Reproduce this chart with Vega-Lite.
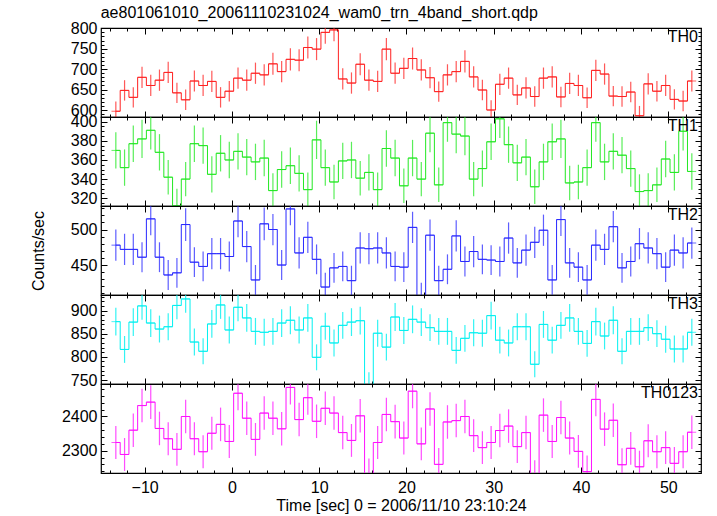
{
"$schema": "https://vega.github.io/schema/vega-lite/v6.json",
"padding": {"left": 29, "top": 4, "right": 5, "bottom": 0},
"title": {"text": "ae801061010_20061110231024_wam0_trn_4band_short.qdp", "anchor": "start", "frame": "bounds", "dx": 71, "fontSize": 16, "fontWeight": "normal", "font": "Liberation Sans", "color": "black", "offset": -1},
"config": {"font": "Liberation Sans", "view": {"stroke": "black", "strokeWidth": 1.2}, "axis": {"domain": false, "grid": false, "labelFont": "Liberation Sans", "labelFontSize": 16, "labelColor": "black", "tickColor": "black", "tickWidth": 1, "titleFont": "Liberation Sans", "titleFontSize": 16, "titleFontWeight": "normal", "titleColor": "black", "labelOverlap": false, "labelFlush": false, "format": "d"}},
"datasets": {
"th0": [{"t":-13.3,"v":597,"e":24},{"t":-12.3,"v":648,"e":25},{"t":-11.3,"v":631,"e":25},{"t":-10.3,"v":680,"e":26},{"t":-9.3,"v":660,"e":26},{"t":-8.3,"v":673,"e":26},{"t":-7.3,"v":692,"e":26},{"t":-6.3,"v":642,"e":25},{"t":-5.3,"v":625,"e":25},{"t":-4.3,"v":671,"e":26},{"t":-3.3,"v":660,"e":26},{"t":-2.3,"v":670,"e":26},{"t":-1.3,"v":631,"e":25},{"t":-0.3,"v":646,"e":25},{"t":0.7,"v":678,"e":26},{"t":1.7,"v":673,"e":26},{"t":2.7,"v":690,"e":26},{"t":3.7,"v":686,"e":26},{"t":4.7,"v":713,"e":27},{"t":5.7,"v":694,"e":26},{"t":6.7,"v":724,"e":27},{"t":7.7,"v":722,"e":27},{"t":8.7,"v":753,"e":27},{"t":9.7,"v":749,"e":27},{"t":10.7,"v":790,"e":28},{"t":11.7,"v":796,"e":28},{"t":12.7,"v":676,"e":26},{"t":13.7,"v":666,"e":26},{"t":14.7,"v":712,"e":27},{"t":15.7,"v":673,"e":26},{"t":16.7,"v":670,"e":26},{"t":17.7,"v":749,"e":27},{"t":18.7,"v":690,"e":26},{"t":19.7,"v":702,"e":26},{"t":20.7,"v":726,"e":27},{"t":21.7,"v":698,"e":26},{"t":22.7,"v":679,"e":26},{"t":23.7,"v":645,"e":25},{"t":24.7,"v":686,"e":26},{"t":25.7,"v":694,"e":26},{"t":26.7,"v":719,"e":27},{"t":27.7,"v":681,"e":26},{"t":28.7,"v":649,"e":25},{"t":29.7,"v":600,"e":24},{"t":30.7,"v":663,"e":26},{"t":31.7,"v":678,"e":26},{"t":32.7,"v":637,"e":25},{"t":33.7,"v":654,"e":26},{"t":34.7,"v":633,"e":25},{"t":35.7,"v":678,"e":26},{"t":36.7,"v":681,"e":26},{"t":37.7,"v":632,"e":25},{"t":38.7,"v":665,"e":26},{"t":39.7,"v":660,"e":26},{"t":40.7,"v":630,"e":25},{"t":41.7,"v":697,"e":26},{"t":42.7,"v":688,"e":26},{"t":43.7,"v":634,"e":25},{"t":44.7,"v":633,"e":25},{"t":45.7,"v":644,"e":25},{"t":46.7,"v":586,"e":24},{"t":47.7,"v":664,"e":26},{"t":48.7,"v":646,"e":25},{"t":49.7,"v":660,"e":26},{"t":50.7,"v":626,"e":25},{"t":51.7,"v":622,"e":25},{"t":52.7,"v":671,"e":26}],
"th1": [{"t":-13.3,"v":370,"e":19},{"t":-12.3,"v":352,"e":19},{"t":-11.3,"v":377,"e":19},{"t":-10.3,"v":382,"e":20},{"t":-9.3,"v":391,"e":20},{"t":-8.3,"v":368,"e":19},{"t":-7.3,"v":342,"e":18},{"t":-6.3,"v":312,"e":18},{"t":-5.3,"v":340,"e":18},{"t":-4.3,"v":377,"e":19},{"t":-3.3,"v":375,"e":19},{"t":-2.3,"v":345,"e":19},{"t":-1.3,"v":367,"e":19},{"t":-0.3,"v":360,"e":19},{"t":0.7,"v":369,"e":19},{"t":1.7,"v":363,"e":19},{"t":2.7,"v":358,"e":19},{"t":3.7,"v":362,"e":19},{"t":4.7,"v":328,"e":18},{"t":5.7,"v":350,"e":19},{"t":6.7,"v":354,"e":19},{"t":7.7,"v":346,"e":19},{"t":8.7,"v":329,"e":18},{"t":9.7,"v":381,"e":20},{"t":10.7,"v":352,"e":19},{"t":11.7,"v":337,"e":18},{"t":12.7,"v":359,"e":19},{"t":13.7,"v":360,"e":19},{"t":14.7,"v":341,"e":18},{"t":15.7,"v":347,"e":19},{"t":16.7,"v":329,"e":18},{"t":17.7,"v":372,"e":19},{"t":18.7,"v":362,"e":19},{"t":19.7,"v":333,"e":18},{"t":20.7,"v":362,"e":19},{"t":21.7,"v":340,"e":18},{"t":22.7,"v":388,"e":20},{"t":23.7,"v":334,"e":18},{"t":24.7,"v":399,"e":20},{"t":25.7,"v":387,"e":20},{"t":26.7,"v":385,"e":20},{"t":27.7,"v":340,"e":18},{"t":28.7,"v":351,"e":19},{"t":29.7,"v":379,"e":19},{"t":30.7,"v":403,"e":20},{"t":31.7,"v":376,"e":19},{"t":32.7,"v":357,"e":19},{"t":33.7,"v":363,"e":19},{"t":34.7,"v":332,"e":18},{"t":35.7,"v":358,"e":19},{"t":36.7,"v":379,"e":19},{"t":37.7,"v":382,"e":20},{"t":38.7,"v":336,"e":18},{"t":39.7,"v":337,"e":18},{"t":40.7,"v":352,"e":19},{"t":41.7,"v":399,"e":20},{"t":42.7,"v":358,"e":19},{"t":43.7,"v":369,"e":19},{"t":44.7,"v":365,"e":19},{"t":45.7,"v":351,"e":19},{"t":46.7,"v":327,"e":18},{"t":47.7,"v":328,"e":18},{"t":48.7,"v":334,"e":18},{"t":49.7,"v":361,"e":19},{"t":50.7,"v":347,"e":19},{"t":51.7,"v":390,"e":20},{"t":52.7,"v":348,"e":19}],
"th2": [{"t":-13.3,"v":478,"e":22},{"t":-12.3,"v":472,"e":22},{"t":-11.3,"v":472,"e":22},{"t":-10.3,"v":461,"e":21},{"t":-9.3,"v":515,"e":23},{"t":-8.3,"v":461,"e":21},{"t":-7.3,"v":436,"e":21},{"t":-6.3,"v":439,"e":21},{"t":-5.3,"v":507,"e":23},{"t":-4.3,"v":454,"e":21},{"t":-3.3,"v":448,"e":21},{"t":-2.3,"v":466,"e":22},{"t":-1.3,"v":466,"e":22},{"t":-0.3,"v":462,"e":21},{"t":0.7,"v":512,"e":23},{"t":1.7,"v":476,"e":22},{"t":2.7,"v":429,"e":21},{"t":3.7,"v":508,"e":23},{"t":4.7,"v":500,"e":22},{"t":5.7,"v":450,"e":21},{"t":6.7,"v":529,"e":23},{"t":7.7,"v":467,"e":22},{"t":8.7,"v":489,"e":22},{"t":9.7,"v":458,"e":21},{"t":10.7,"v":419,"e":20},{"t":11.7,"v":446,"e":21},{"t":12.7,"v":448,"e":21},{"t":13.7,"v":428,"e":21},{"t":14.7,"v":474,"e":22},{"t":15.7,"v":473,"e":22},{"t":16.7,"v":474,"e":22},{"t":17.7,"v":467,"e":22},{"t":18.7,"v":448,"e":21},{"t":19.7,"v":447,"e":21},{"t":20.7,"v":503,"e":22},{"t":21.7,"v":405,"e":20},{"t":22.7,"v":492,"e":22},{"t":23.7,"v":428,"e":21},{"t":24.7,"v":444,"e":21},{"t":25.7,"v":491,"e":22},{"t":26.7,"v":455,"e":21},{"t":27.7,"v":469,"e":22},{"t":28.7,"v":458,"e":21},{"t":29.7,"v":457,"e":21},{"t":30.7,"v":455,"e":21},{"t":31.7,"v":488,"e":22},{"t":32.7,"v":453,"e":21},{"t":33.7,"v":471,"e":22},{"t":34.7,"v":482,"e":22},{"t":35.7,"v":499,"e":22},{"t":36.7,"v":429,"e":21},{"t":37.7,"v":514,"e":23},{"t":38.7,"v":453,"e":21},{"t":39.7,"v":447,"e":21},{"t":40.7,"v":429,"e":21},{"t":41.7,"v":478,"e":22},{"t":42.7,"v":472,"e":22},{"t":43.7,"v":504,"e":22},{"t":44.7,"v":446,"e":21},{"t":45.7,"v":455,"e":21},{"t":46.7,"v":480,"e":22},{"t":47.7,"v":474,"e":22},{"t":48.7,"v":466,"e":22},{"t":49.7,"v":447,"e":21},{"t":50.7,"v":471,"e":22},{"t":51.7,"v":467,"e":22},{"t":52.7,"v":481,"e":22}],
"th3": [{"t":-13.3,"v":876,"e":30},{"t":-12.3,"v":816,"e":29},{"t":-11.3,"v":875,"e":30},{"t":-10.3,"v":910,"e":30},{"t":-9.3,"v":873,"e":30},{"t":-8.3,"v":860,"e":29},{"t":-7.3,"v":865,"e":29},{"t":-6.3,"v":911,"e":30},{"t":-5.3,"v":925,"e":30},{"t":-4.3,"v":832,"e":29},{"t":-3.3,"v":812,"e":28},{"t":-2.3,"v":871,"e":30},{"t":-1.3,"v":912,"e":30},{"t":-0.3,"v":858,"e":29},{"t":0.7,"v":907,"e":30},{"t":1.7,"v":884,"e":30},{"t":2.7,"v":855,"e":29},{"t":3.7,"v":853,"e":29},{"t":4.7,"v":855,"e":29},{"t":5.7,"v":873,"e":30},{"t":6.7,"v":879,"e":30},{"t":7.7,"v":858,"e":29},{"t":8.7,"v":884,"e":30},{"t":9.7,"v":799,"e":28},{"t":10.7,"v":866,"e":29},{"t":11.7,"v":830,"e":29},{"t":12.7,"v":868,"e":29},{"t":13.7,"v":875,"e":30},{"t":14.7,"v":878,"e":30},{"t":15.7,"v":740,"e":27},{"t":16.7,"v":851,"e":29},{"t":17.7,"v":821,"e":29},{"t":18.7,"v":886,"e":30},{"t":19.7,"v":857,"e":29},{"t":20.7,"v":881,"e":30},{"t":21.7,"v":875,"e":30},{"t":22.7,"v":863,"e":29},{"t":23.7,"v":855,"e":29},{"t":24.7,"v":855,"e":29},{"t":25.7,"v":814,"e":29},{"t":26.7,"v":840,"e":29},{"t":27.7,"v":852,"e":29},{"t":28.7,"v":851,"e":29},{"t":29.7,"v":889,"e":30},{"t":30.7,"v":836,"e":29},{"t":31.7,"v":830,"e":29},{"t":32.7,"v":865,"e":29},{"t":33.7,"v":865,"e":29},{"t":34.7,"v":784,"e":28},{"t":35.7,"v":870,"e":29},{"t":36.7,"v":836,"e":29},{"t":37.7,"v":868,"e":29},{"t":38.7,"v":884,"e":30},{"t":39.7,"v":855,"e":29},{"t":40.7,"v":829,"e":29},{"t":41.7,"v":876,"e":30},{"t":42.7,"v":845,"e":29},{"t":43.7,"v":879,"e":30},{"t":44.7,"v":812,"e":28},{"t":45.7,"v":855,"e":29},{"t":46.7,"v":855,"e":29},{"t":47.7,"v":863,"e":29},{"t":48.7,"v":850,"e":29},{"t":49.7,"v":838,"e":29},{"t":50.7,"v":817,"e":29},{"t":51.7,"v":817,"e":29},{"t":52.7,"v":853,"e":29}],
"th4": [{"t":-13.3,"v":2324,"e":48},{"t":-12.3,"v":2289,"e":48},{"t":-11.3,"v":2360,"e":49},{"t":-10.3,"v":2432,"e":49},{"t":-9.3,"v":2442,"e":49},{"t":-8.3,"v":2365,"e":49},{"t":-7.3,"v":2335,"e":48},{"t":-6.3,"v":2304,"e":48},{"t":-5.3,"v":2400,"e":49},{"t":-4.3,"v":2335,"e":48},{"t":-3.3,"v":2297,"e":48},{"t":-2.3,"v":2351,"e":48},{"t":-1.3,"v":2377,"e":49},{"t":-0.3,"v":2327,"e":48},{"t":0.7,"v":2468,"e":50},{"t":1.7,"v":2395,"e":49},{"t":2.7,"v":2333,"e":48},{"t":3.7,"v":2410,"e":49},{"t":4.7,"v":2395,"e":49},{"t":5.7,"v":2364,"e":49},{"t":6.7,"v":2485,"e":50},{"t":7.7,"v":2391,"e":49},{"t":8.7,"v":2455,"e":50},{"t":9.7,"v":2386,"e":49},{"t":10.7,"v":2424,"e":49},{"t":11.7,"v":2410,"e":49},{"t":12.7,"v":2353,"e":49},{"t":13.7,"v":2330,"e":48},{"t":14.7,"v":2402,"e":49},{"t":15.7,"v":2230,"e":47},{"t":16.7,"v":2324,"e":48},{"t":17.7,"v":2406,"e":49},{"t":18.7,"v":2385,"e":49},{"t":19.7,"v":2337,"e":48},{"t":20.7,"v":2474,"e":50},{"t":21.7,"v":2320,"e":48},{"t":22.7,"v":2422,"e":49},{"t":23.7,"v":2260,"e":48},{"t":24.7,"v":2384,"e":49},{"t":25.7,"v":2388,"e":49},{"t":26.7,"v":2400,"e":49},{"t":27.7,"v":2344,"e":48},{"t":28.7,"v":2309,"e":48},{"t":29.7,"v":2324,"e":48},{"t":30.7,"v":2359,"e":49},{"t":31.7,"v":2372,"e":49},{"t":32.7,"v":2312,"e":48},{"t":33.7,"v":2353,"e":49},{"t":34.7,"v":2225,"e":47},{"t":35.7,"v":2404,"e":49},{"t":36.7,"v":2327,"e":48},{"t":37.7,"v":2397,"e":49},{"t":38.7,"v":2337,"e":48},{"t":39.7,"v":2298,"e":48},{"t":40.7,"v":2239,"e":47},{"t":41.7,"v":2450,"e":49},{"t":42.7,"v":2363,"e":49},{"t":43.7,"v":2389,"e":49},{"t":44.7,"v":2259,"e":48},{"t":45.7,"v":2307,"e":48},{"t":46.7,"v":2253,"e":47},{"t":47.7,"v":2329,"e":48},{"t":48.7,"v":2297,"e":48},{"t":49.7,"v":2309,"e":48},{"t":50.7,"v":2263,"e":48},{"t":51.7,"v":2297,"e":48},{"t":52.7,"v":2354,"e":49}],
"one": [{"k": 1}]
},
"bounds": "flush",
"spacing": 0,
"vconcat": [
{"data": {"name": "th0"}, "width": 600, "height": 89,
 "layer": [
  {"mark": {"type": "errorbar", "color": "#ff2020", "opacity": 0.75, "thickness": 1.2, "clip": true},
   "encoding": {"x": {"field": "t", "type": "quantitative", "scale": {"domain": [-15, 53.75], "nice": false, "zero": false}, "axis": {"orient": "bottom", "values": [-10,0,10,20,30,40,50], "tickSize": -6, "labels": false, "title": null}},
    "y": {"field": "v", "type": "quantitative", "scale": {"domain": [582.9, 800.7], "nice": false, "zero": false}, "axis": {"orient": "left", "values": [600,650,700,750,800], "tickSize": -6, "labelPadding": 10, "title": null}},
    "yError": {"field": "e"}}},
  {"mark": {"type": "tick", "orient": "horizontal", "color": "#ff2020", "size": 8.727, "thickness": 1, "clip": true},
   "encoding": {"x": {"field": "t", "type": "quantitative", "scale": {"domain": [-15, 53.75], "nice": false, "zero": false}, "axis": {"orient": "top", "values": [-10,0,10,20,30,40,50], "tickSize": -6, "labels": false, "title": null}},
    "y": {"field": "v", "type": "quantitative", "scale": {"domain": [582.9, 800.7], "nice": false, "zero": false}, "axis": {"orient": "right", "values": [600,650,700,750,800], "tickSize": -6, "labels": false, "title": null}}}},
  {"mark": {"type": "line", "interpolate": "step", "color": "#ff2020", "strokeWidth": 1, "clip": true},
   "encoding": {"x": {"field": "t", "type": "quantitative", "scale": {"domain": [-15, 53.75], "nice": false, "zero": false}, "axis": {"orient": "bottom", "values": [-14,-12,-10,-8,-6,-4,-2,0,2,4,6,8,10,12,14,16,18,20,22,24,26,28,30,32,34,36,38,40,42,44,46,48,50,52], "tickSize": -3, "labels": false, "title": null}},
    "y": {"field": "v", "type": "quantitative", "scale": {"domain": [582.9, 800.7], "nice": false, "zero": false}, "axis": {"orient": "left", "values": [590,600,610,620,630,640,650,660,670,680,690,700,710,720,730,740,750,760,770,780,790,800], "tickSize": -3, "labels": false, "title": null}}}},
  {"data": {"name": "one"}, "mark": {"type": "text", "text": "TH0", "align": "right", "baseline": "top", "dx": -3, "dy": 1, "fontSize": 16, "font": "Liberation Sans", "color": "black"},
   "encoding": {"x": {"datum": 53.75, "type": "quantitative", "scale": {"domain": [-15, 53.75], "nice": false, "zero": false}, "axis": {"orient": "top", "values": [-14,-12,-10,-8,-6,-4,-2,0,2,4,6,8,10,12,14,16,18,20,22,24,26,28,30,32,34,36,38,40,42,44,46,48,50,52], "tickSize": -3, "labels": false, "title": null}},
    "y": {"datum": 800.7, "type": "quantitative", "scale": {"domain": [582.9, 800.7], "nice": false, "zero": false}, "axis": {"orient": "right", "values": [590,600,610,620,630,640,650,660,670,680,690,700,710,720,730,740,750,760,770,780,790,800], "tickSize": -3, "labels": false, "title": null}}}}
 ],
 "resolve": {"axis": {"x": "independent", "y": "independent"}}},
{"data": {"name": "th1"}, "width": 600, "height": 89,
 "layer": [
  {"mark": {"type": "errorbar", "color": "#22e822", "opacity": 0.75, "thickness": 1.2, "clip": true},
   "encoding": {"x": {"field": "t", "type": "quantitative", "scale": {"domain": [-15, 53.75], "nice": false, "zero": false}, "axis": {"orient": "bottom", "values": [-10,0,10,20,30,40,50], "tickSize": -6, "labels": false, "title": null}},
    "y": {"field": "v", "type": "quantitative", "scale": {"domain": [311.9, 404.9], "nice": false, "zero": false}, "axis": {"orient": "left", "values": [320,340,360,380,400], "tickSize": -6, "labelPadding": 10, "title": null}},
    "yError": {"field": "e"}}},
  {"mark": {"type": "tick", "orient": "horizontal", "color": "#22e822", "size": 8.727, "thickness": 1, "clip": true},
   "encoding": {"x": {"field": "t", "type": "quantitative", "scale": {"domain": [-15, 53.75], "nice": false, "zero": false}, "axis": {"orient": "top", "values": [-10,0,10,20,30,40,50], "tickSize": -6, "labels": false, "title": null}},
    "y": {"field": "v", "type": "quantitative", "scale": {"domain": [311.9, 404.9], "nice": false, "zero": false}, "axis": {"orient": "right", "values": [320,340,360,380,400], "tickSize": -6, "labels": false, "title": null}}}},
  {"mark": {"type": "line", "interpolate": "step", "color": "#22e822", "strokeWidth": 1, "clip": true},
   "encoding": {"x": {"field": "t", "type": "quantitative", "scale": {"domain": [-15, 53.75], "nice": false, "zero": false}, "axis": {"orient": "bottom", "values": [-14,-12,-10,-8,-6,-4,-2,0,2,4,6,8,10,12,14,16,18,20,22,24,26,28,30,32,34,36,38,40,42,44,46,48,50,52], "tickSize": -3, "labels": false, "title": null}},
    "y": {"field": "v", "type": "quantitative", "scale": {"domain": [311.9, 404.9], "nice": false, "zero": false}, "axis": {"orient": "left", "values": [315,320,325,330,335,340,345,350,355,360,365,370,375,380,385,390,395,400], "tickSize": -3, "labels": false, "title": null}}}},
  {"data": {"name": "one"}, "mark": {"type": "text", "text": "TH1", "align": "right", "baseline": "top", "dx": -3, "dy": 1, "fontSize": 16, "font": "Liberation Sans", "color": "black"},
   "encoding": {"x": {"datum": 53.75, "type": "quantitative", "scale": {"domain": [-15, 53.75], "nice": false, "zero": false}, "axis": {"orient": "top", "values": [-14,-12,-10,-8,-6,-4,-2,0,2,4,6,8,10,12,14,16,18,20,22,24,26,28,30,32,34,36,38,40,42,44,46,48,50,52], "tickSize": -3, "labels": false, "title": null}},
    "y": {"datum": 404.9, "type": "quantitative", "scale": {"domain": [311.9, 404.9], "nice": false, "zero": false}, "axis": {"orient": "right", "values": [315,320,325,330,335,340,345,350,355,360,365,370,375,380,385,390,395,400], "tickSize": -3, "labels": false, "title": null}}}}
 ],
 "resolve": {"axis": {"x": "independent", "y": "independent"}}},
{"data": {"name": "th2"}, "width": 600, "height": 89,
 "layer": [
  {"mark": {"type": "errorbar", "color": "#2828ff", "opacity": 0.75, "thickness": 1.2, "clip": true},
   "encoding": {"x": {"field": "t", "type": "quantitative", "scale": {"domain": [-15, 53.75], "nice": false, "zero": false}, "axis": {"orient": "bottom", "values": [-10,0,10,20,30,40,50], "tickSize": -6, "labels": false, "title": null}},
    "y": {"field": "v", "type": "quantitative", "scale": {"domain": [407.8, 533.1], "nice": false, "zero": false}, "axis": {"orient": "left", "values": [450,500], "tickSize": -6, "labelPadding": 10, "title": "Counts/sec", "titlePadding": 24}},
    "yError": {"field": "e"}}},
  {"mark": {"type": "tick", "orient": "horizontal", "color": "#2828ff", "size": 8.727, "thickness": 1, "clip": true},
   "encoding": {"x": {"field": "t", "type": "quantitative", "scale": {"domain": [-15, 53.75], "nice": false, "zero": false}, "axis": {"orient": "top", "values": [-10,0,10,20,30,40,50], "tickSize": -6, "labels": false, "title": null}},
    "y": {"field": "v", "type": "quantitative", "scale": {"domain": [407.8, 533.1], "nice": false, "zero": false}, "axis": {"orient": "right", "values": [450,500], "tickSize": -6, "labels": false, "title": null}}}},
  {"mark": {"type": "line", "interpolate": "step", "color": "#2828ff", "strokeWidth": 1, "clip": true},
   "encoding": {"x": {"field": "t", "type": "quantitative", "scale": {"domain": [-15, 53.75], "nice": false, "zero": false}, "axis": {"orient": "bottom", "values": [-14,-12,-10,-8,-6,-4,-2,0,2,4,6,8,10,12,14,16,18,20,22,24,26,28,30,32,34,36,38,40,42,44,46,48,50,52], "tickSize": -3, "labels": false, "title": null}},
    "y": {"field": "v", "type": "quantitative", "scale": {"domain": [407.8, 533.1], "nice": false, "zero": false}, "axis": {"orient": "left", "values": [410,420,430,440,450,460,470,480,490,500,510,520,530], "tickSize": -3, "labels": false, "title": null}}}},
  {"data": {"name": "one"}, "mark": {"type": "text", "text": "TH2", "align": "right", "baseline": "top", "dx": -3, "dy": 1, "fontSize": 16, "font": "Liberation Sans", "color": "black"},
   "encoding": {"x": {"datum": 53.75, "type": "quantitative", "scale": {"domain": [-15, 53.75], "nice": false, "zero": false}, "axis": {"orient": "top", "values": [-14,-12,-10,-8,-6,-4,-2,0,2,4,6,8,10,12,14,16,18,20,22,24,26,28,30,32,34,36,38,40,42,44,46,48,50,52], "tickSize": -3, "labels": false, "title": null}},
    "y": {"datum": 533.1, "type": "quantitative", "scale": {"domain": [407.8, 533.1], "nice": false, "zero": false}, "axis": {"orient": "right", "values": [410,420,430,440,450,460,470,480,490,500,510,520,530], "tickSize": -3, "labels": false, "title": null}}}}
 ],
 "resolve": {"axis": {"x": "independent", "y": "independent"}}},
{"data": {"name": "th3"}, "width": 600, "height": 89,
 "layer": [
  {"mark": {"type": "errorbar", "color": "#00f0f0", "opacity": 0.8, "thickness": 1.2, "clip": true},
   "encoding": {"x": {"field": "t", "type": "quantitative", "scale": {"domain": [-15, 53.75], "nice": false, "zero": false}, "axis": {"orient": "bottom", "values": [-10,0,10,20,30,40,50], "tickSize": -6, "labels": false, "title": null}},
    "y": {"field": "v", "type": "quantitative", "scale": {"domain": [741.4, 933.5], "nice": false, "zero": false}, "axis": {"orient": "left", "values": [750,800,850,900], "tickSize": -6, "labelPadding": 10, "title": null}},
    "yError": {"field": "e"}}},
  {"mark": {"type": "tick", "orient": "horizontal", "color": "#00f0f0", "size": 8.727, "thickness": 1, "clip": true},
   "encoding": {"x": {"field": "t", "type": "quantitative", "scale": {"domain": [-15, 53.75], "nice": false, "zero": false}, "axis": {"orient": "top", "values": [-10,0,10,20,30,40,50], "tickSize": -6, "labels": false, "title": null}},
    "y": {"field": "v", "type": "quantitative", "scale": {"domain": [741.4, 933.5], "nice": false, "zero": false}, "axis": {"orient": "right", "values": [750,800,850,900], "tickSize": -6, "labels": false, "title": null}}}},
  {"mark": {"type": "line", "interpolate": "step", "color": "#00f0f0", "strokeWidth": 1, "clip": true},
   "encoding": {"x": {"field": "t", "type": "quantitative", "scale": {"domain": [-15, 53.75], "nice": false, "zero": false}, "axis": {"orient": "bottom", "values": [-14,-12,-10,-8,-6,-4,-2,0,2,4,6,8,10,12,14,16,18,20,22,24,26,28,30,32,34,36,38,40,42,44,46,48,50,52], "tickSize": -3, "labels": false, "title": null}},
    "y": {"field": "v", "type": "quantitative", "scale": {"domain": [741.4, 933.5], "nice": false, "zero": false}, "axis": {"orient": "left", "values": [750,760,770,780,790,800,810,820,830,840,850,860,870,880,890,900,910,920,930], "tickSize": -3, "labels": false, "title": null}}}},
  {"data": {"name": "one"}, "mark": {"type": "text", "text": "TH3", "align": "right", "baseline": "top", "dx": -3, "dy": 1, "fontSize": 16, "font": "Liberation Sans", "color": "black"},
   "encoding": {"x": {"datum": 53.75, "type": "quantitative", "scale": {"domain": [-15, 53.75], "nice": false, "zero": false}, "axis": {"orient": "top", "values": [-14,-12,-10,-8,-6,-4,-2,0,2,4,6,8,10,12,14,16,18,20,22,24,26,28,30,32,34,36,38,40,42,44,46,48,50,52], "tickSize": -3, "labels": false, "title": null}},
    "y": {"datum": 933.5, "type": "quantitative", "scale": {"domain": [741.4, 933.5], "nice": false, "zero": false}, "axis": {"orient": "right", "values": [750,760,770,780,790,800,810,820,830,840,850,860,870,880,890,900,910,920,930], "tickSize": -3, "labels": false, "title": null}}}}
 ],
 "resolve": {"axis": {"x": "independent", "y": "independent"}}},
{"data": {"name": "th4"}, "width": 600, "height": 89,
 "layer": [
  {"mark": {"type": "errorbar", "color": "#ff10ff", "opacity": 0.75, "thickness": 1.2, "clip": true},
   "encoding": {"x": {"field": "t", "type": "quantitative", "scale": {"domain": [-15, 53.75], "nice": false, "zero": false}, "axis": {"orient": "bottom", "values": [-10,0,10,20,30,40,50], "tickSize": -6, "labels": true, "labelPadding": 12, "title": "Time [sec] 0 = 2006/11/10 23:10:24", "titlePadding": 2}},
    "y": {"field": "v", "type": "quantitative", "scale": {"domain": [2234.8, 2495], "nice": false, "zero": false}, "axis": {"orient": "left", "values": [2300,2400], "tickSize": -6, "labelPadding": 10, "title": null}},
    "yError": {"field": "e"}}},
  {"mark": {"type": "tick", "orient": "horizontal", "color": "#ff10ff", "size": 8.727, "thickness": 1, "clip": true},
   "encoding": {"x": {"field": "t", "type": "quantitative", "scale": {"domain": [-15, 53.75], "nice": false, "zero": false}, "axis": {"orient": "top", "values": [-10,0,10,20,30,40,50], "tickSize": -6, "labels": false, "title": null}},
    "y": {"field": "v", "type": "quantitative", "scale": {"domain": [2234.8, 2495], "nice": false, "zero": false}, "axis": {"orient": "right", "values": [2300,2400], "tickSize": -6, "labels": false, "title": null}}}},
  {"mark": {"type": "line", "interpolate": "step", "color": "#ff10ff", "strokeWidth": 1, "clip": true},
   "encoding": {"x": {"field": "t", "type": "quantitative", "scale": {"domain": [-15, 53.75], "nice": false, "zero": false}, "axis": {"orient": "bottom", "values": [-14,-12,-10,-8,-6,-4,-2,0,2,4,6,8,10,12,14,16,18,20,22,24,26,28,30,32,34,36,38,40,42,44,46,48,50,52], "tickSize": -3, "labels": false, "title": null}},
    "y": {"field": "v", "type": "quantitative", "scale": {"domain": [2234.8, 2495], "nice": false, "zero": false}, "axis": {"orient": "left", "values": [2240,2260,2280,2300,2320,2340,2360,2380,2400,2420,2440,2460,2480], "tickSize": -3, "labels": false, "title": null}}}},
  {"data": {"name": "one"}, "mark": {"type": "text", "text": "TH0123", "align": "right", "baseline": "top", "dx": -3, "dy": 1, "fontSize": 16, "font": "Liberation Sans", "color": "black"},
   "encoding": {"x": {"datum": 53.75, "type": "quantitative", "scale": {"domain": [-15, 53.75], "nice": false, "zero": false}, "axis": {"orient": "top", "values": [-14,-12,-10,-8,-6,-4,-2,0,2,4,6,8,10,12,14,16,18,20,22,24,26,28,30,32,34,36,38,40,42,44,46,48,50,52], "tickSize": -3, "labels": false, "title": null}},
    "y": {"datum": 2495, "type": "quantitative", "scale": {"domain": [2234.8, 2495], "nice": false, "zero": false}, "axis": {"orient": "right", "values": [2240,2260,2280,2300,2320,2340,2360,2380,2400,2420,2440,2460,2480], "tickSize": -3, "labels": false, "title": null}}}}
 ],
 "resolve": {"axis": {"x": "independent", "y": "independent"}}}
]
}
